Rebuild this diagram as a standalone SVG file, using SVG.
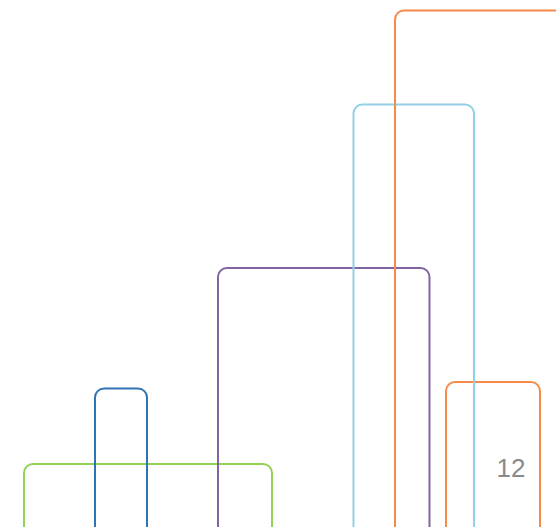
<svg xmlns="http://www.w3.org/2000/svg" width="556" height="527" viewBox="0 0 556 527">
<style>
.b{fill:none;stroke-width:2}
.t{font-family:"Liberation Sans",Arial,sans-serif;font-size:26px;fill:#8a8a8a;text-anchor:middle}
</style>
<rect width="556" height="527" fill="#ffffff"/>
<g id="green"><rect class="b" x="24" y="464" width="248" height="90" rx="9" stroke="#92d050"/></g>
<g id="blue"><rect class="b" x="95" y="388.5" width="52" height="170" rx="9" stroke="#2e75b6"/></g>
<g id="purple"><rect class="b" x="218" y="268" width="211.5" height="290" rx="9" stroke="#8064a2"/></g>
<g id="orange-small"><rect class="b" x="446" y="382" width="94" height="180" rx="9" stroke="#f58a4b"/><text class="t" x="511" y="477">12</text></g>
<g id="lightblue"><rect class="b" x="353.5" y="104.5" width="120.5" height="460" rx="9" stroke="#92cfe8"/></g>
<g id="orange-big"><rect class="b" x="395" y="10.5" width="200" height="560" rx="9" stroke="#f58a4b"/></g>
</svg>
